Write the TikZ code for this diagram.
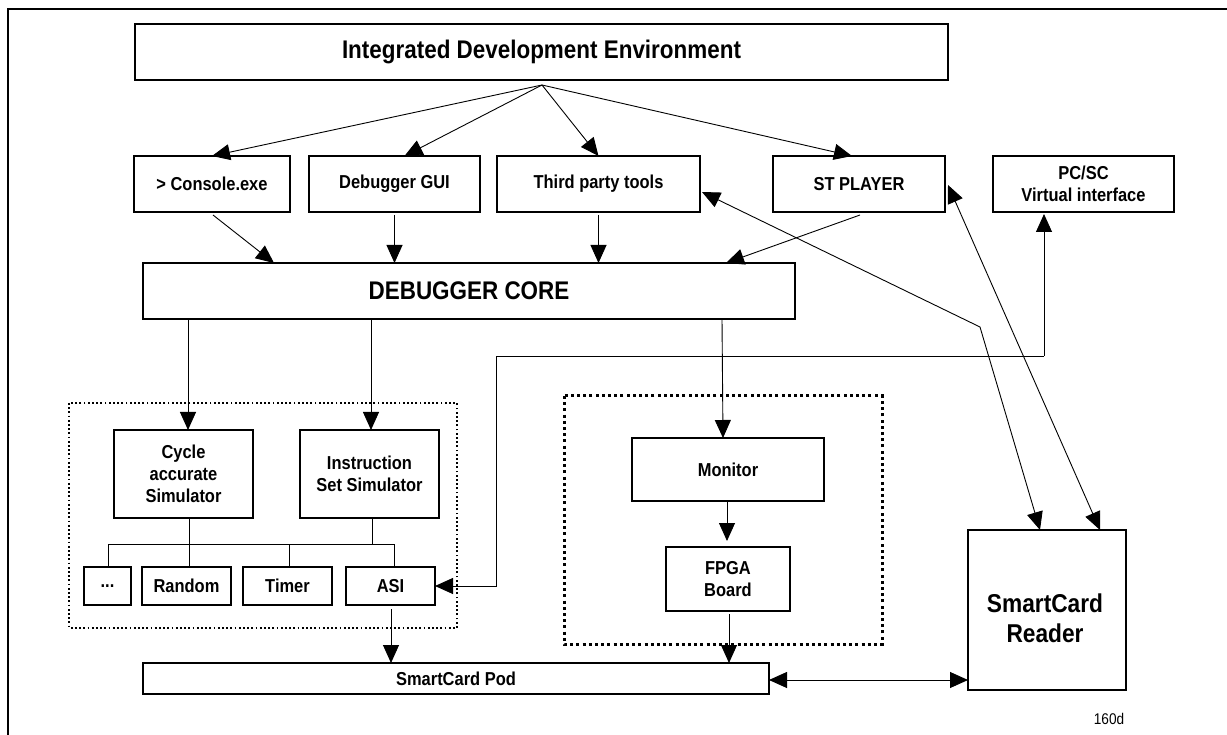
\documentclass[tikz,border=0pt]{standalone}
\usepackage{fontspec}
\setmainfont{Liberation Sans}[FakeStretch=0.88]
\usetikzlibrary{arrows.meta,calc}
\begin{document}
\begin{tikzpicture}[x=1pt,y=-1pt,
  thickbox/.style={draw, line width=2.4pt, inner sep=0pt, outer sep=0pt, align=center,
    font=\fontsize{18.7}{22}\selectfont\bfseries},
  thinbox/.style={draw, line width=1.3pt, inner sep=0pt, outer sep=0pt, align=center,
    font=\fontsize{18.7}{22}\selectfont\bfseries},
  bigtext/.style={font=\fontsize{25.5}{30}\selectfont\bfseries},
  arr/.style={-{Triangle[length=18pt,width=16pt]}, line width=0.9pt},
  darr/.style={{Triangle[length=18pt,width=16pt]}-{Triangle[length=18pt,width=16pt]}, line width=0.9pt},
  conn/.style={line width=0.9pt},
  dotbox/.style={line width=1.8pt, dash pattern=on 1.8pt off 2.4pt},
  dotboxthick/.style={line width=3pt, dash pattern=on 3pt off 3.2pt}
]
\useasboundingbox (0,0) rectangle (1227,735);
% frame
\draw[line width=2.4pt] (8,740) -- (8,9) -- (1230,9);

% top row
\node[thickbox, bigtext, minimum width=813pt, minimum height=56pt] (ide) at (541.5,52) {Integrated Development Environment};
\coordinate (o) at (542,85);

\node[thickbox, minimum width=156pt, minimum height=56pt] (console) at (212,184) {> Console.exe};
\node[thickbox, minimum width=171pt, minimum height=56pt] (dbg) at (394.5,184) {Debugger GUI};
\node[thickbox, minimum width=203pt, minimum height=56pt] (third) at (598.5,184) {Third party tools};
\node[thickbox, minimum width=172pt, minimum height=56pt] (st) at (859,184) {ST PLAYER};
\node[thickbox, minimum width=181pt, minimum height=56pt] (pcsc) at (1083.5,184) {PC/SC\\Virtual interface};

\node[thickbox, bigtext, minimum width=652pt, minimum height=56pt] (core) at (469,291) {DEBUGGER CORE};

% IDE arrows
\draw[arr] (o) -- (console.north);
\draw[arr] (o) -- ($(dbg.north)+(10,0)$);
\draw[arr] (o) -- (third.north);
\draw[arr] (o) -- ($(st.north)+(-7,0)$);

% into core
\draw[arr] ($(console.south)+(1,3)$) -- ($(core.north west)+(131,0)$);
\draw[arr] ($(dbg.south)+(0,3)$) -- (core.north -| dbg.south);
\draw[arr] ($(third.south)+(0,3)$) -- (core.north -| third.south);
\draw[arr] ($(st.south)+(1,3)$) -- ($(core.north west)+(583,0)$);

% simulator group
\draw[dotbox] (69,403) rectangle (457,628);
\node[thinbox, minimum width=139pt, minimum height=88pt] (cyc) at (183.5,474) {Cycle\\accurate\\Simulator};
\node[thinbox, minimum width=139pt, minimum height=88pt] (iss) at (369.5,474) {Instruction\\Set Simulator};
\node[thinbox, minimum width=47pt, minimum height=38pt] (dots) at (107.5,586) {...};
\node[thinbox, minimum width=89pt, minimum height=38pt] (rnd) at (186.5,586) {Random};
\node[thinbox, minimum width=89pt, minimum height=38pt] (tmr) at (287.5,586) {Timer};
\node[thinbox, minimum width=89pt, minimum height=38pt] (asi) at (390.5,586) {ASI};

\draw[arr] ($(core.south west)+(45,0)$) -- ($(cyc.north)+(4.5,0)$);
\draw[arr] ($(core.south west)+(228,0)$) -- ($(iss.north)+(1.5,0)$);

% bus
\coordinate (busl) at (108,544);
\coordinate (busr) at (394,544);
\draw[conn] (busl) -- (busr);
\draw[conn] ($(cyc.south)+(5.5,0)$) -- ($(rnd.north)+(2.5,0)$);
\draw[conn] ($(iss.south)+(2.5,0)$) -- ($(iss.south)+(2.5,26)$);
\draw[conn] (busl) -- (busl |- dots.north);
\draw[conn] ($(tmr.north)+(1.5,-23)$) -- ($(tmr.north)+(1.5,0)$);
\draw[conn] (busr) -- (busr |- asi.north);

% pod
\node[thinbox, minimum width=626pt, minimum height=31pt] (pod) at (456,678.5) {SmartCard Pod};
\draw[arr] ($(asi.south)+(0.5,4)$) -- ($(pod.north west)+(248,0)$);

% monitor group
\draw[dotboxthick] (564,396) rectangle (882,644);
\node[thinbox, minimum width=192pt, minimum height=63pt] (mon) at (728,469.5) {Monitor};
\node[thinbox, minimum width=124pt, minimum height=64pt] (fpga) at (728,579) {FPGA\\Board};
\draw[arr] ($(core.south west)+(579,0)$) -- ($(mon.north)+(-5,0)$);
\draw[arr] ($(mon.south)+(-1,0)$) -- ($(fpga.north)+(-1,-6)$);
\draw[arr] ($(fpga.south)+(1,3)$) -- (pod.north -| 729,0);

% reader
\node[thinbox, minimum width=158pt, minimum height=160pt] (reader) at (1047,610) {};
\node[font=\fontsize{25.8}{30}\selectfont\bfseries, align=center, inner sep=0pt] (readertxt) at (1045,618) {SmartCard\\Reader};
\draw[darr] ($(pod.east)+(0,1.5)$) -- ($(reader.west)+(0,70)$);

% crossing links
\coordinate (bend) at (980,327);
\draw[darr] ($(third.east)+(2,8)$) -- (bend) -- ($(reader.north west)+(72,0)$);
\draw[darr] ($(st.east)+(3,1)$) -- ($(reader.north west)+(132,0)$);

% PC/SC link to ASI
\coordinate (c1) at (1044,356);
\coordinate (c2) at (496,356);
\draw[arr] (c1) -- ($(pcsc.south)+(-39.5,2)$);
\draw[arr] (c1) -- (c2) -- (c2 |- asi.east) -- (asi.east);

\node[font=\fontsize{15.5}{18}\selectfont, inner sep=0pt] (code) at (1109,719) {160d};
\end{tikzpicture}
\end{document}
